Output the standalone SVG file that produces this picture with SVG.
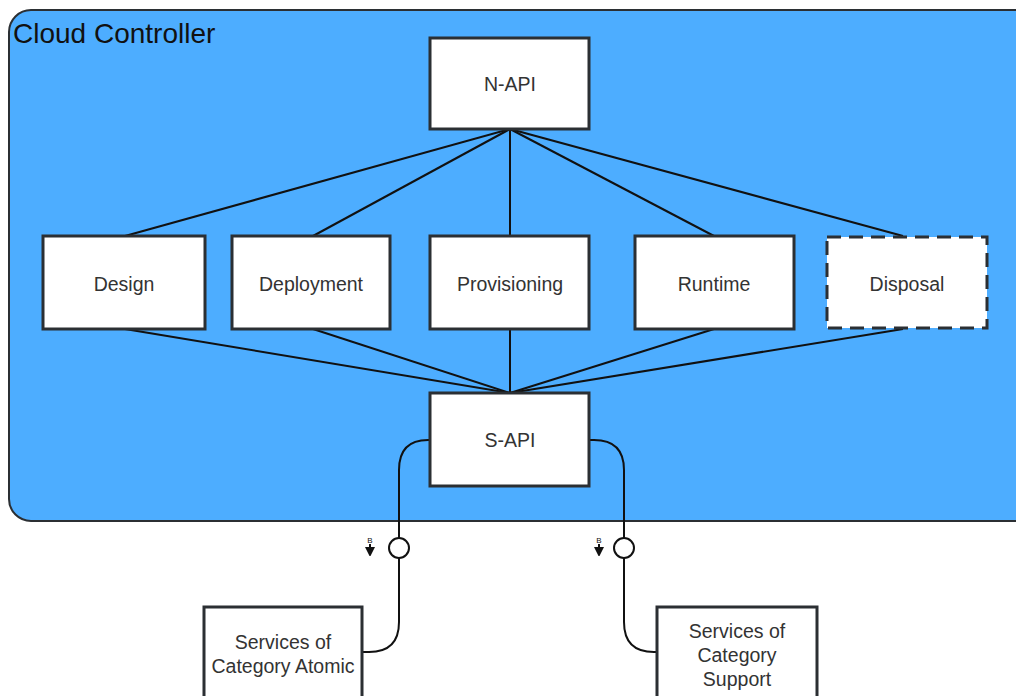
<svg xmlns="http://www.w3.org/2000/svg" width="1016" height="696" viewBox="0 0 1016 696">
<style>
.box{fill:#fff;stroke:#2b2f33;stroke-width:3}
.lbl{font-family:"Liberation Sans",Arial,sans-serif;font-size:19.5px;fill:#333;text-anchor:middle}
.ln{fill:none;stroke:#111;stroke-width:2}
</style>
<defs>
<marker id="ah" markerWidth="9" markerHeight="10" refX="5" refY="5" orient="auto" markerUnits="userSpaceOnUse">
<path d="M0,0 L10,5 L0,10 z" fill="#111"/>
</marker>
</defs>
<g id="cloud-controller">
<rect x="9" y="10" width="1030" height="511" rx="22" fill="#4dadff" stroke="#2b2f33" stroke-width="2"/>
<text x="13" y="43" font-family="Liberation Sans,Arial,sans-serif" font-size="28" fill="#111">Cloud Controller</text>
</g>
<g id="connectors">
<line class="ln" x1="510" y1="129" x2="125" y2="236"/>
<line class="ln" x1="510" y1="129" x2="313" y2="236"/>
<line class="ln" x1="510" y1="129" x2="510" y2="236"/>
<line class="ln" x1="510" y1="129" x2="714" y2="236"/>
<line class="ln" x1="510" y1="129" x2="903" y2="236"/>
<line class="ln" x1="125" y1="329" x2="510" y2="393"/>
<line class="ln" x1="313" y1="329" x2="510" y2="393"/>
<line class="ln" x1="510" y1="329" x2="510" y2="393"/>
<line class="ln" x1="714" y1="329" x2="510" y2="393"/>
<line class="ln" x1="903" y1="329" x2="510" y2="393"/>
<path class="ln" d="M430,440 L428,440 Q399,440 399,470 L399,538"/>
<path class="ln" d="M399,558 L399,622 Q399,652 369,652 L362,652"/>
<circle cx="399" cy="548" r="10" fill="#fff" stroke="#111" stroke-width="2"/>
<path class="ln" d="M589,440 L594,440 Q624,440 624,470 L624,538"/>
<path class="ln" d="M624,558 L624,622 Q624,652 654,652 L657,652"/>
<circle cx="624" cy="548" r="10" fill="#fff" stroke="#111" stroke-width="2"/>
<line x1="370" y1="544" x2="370" y2="552" stroke="#111" stroke-width="2" marker-end="url(#ah)"/>
<text x="370" y="543" font-family="Liberation Sans,Arial,sans-serif" font-size="8" fill="#111" text-anchor="middle">B</text>
<line x1="599" y1="544" x2="599" y2="552" stroke="#111" stroke-width="2" marker-end="url(#ah)"/>
<text x="599" y="543" font-family="Liberation Sans,Arial,sans-serif" font-size="8" fill="#111" text-anchor="middle">B</text>
</g>
<g id="n-api"><rect class="box" x="430" y="38" width="159" height="91"/><text class="lbl" x="510" y="91">N-API</text></g>
<g id="design"><rect class="box" x="43" y="236" width="162" height="93"/><text class="lbl" x="124" y="291">Design</text></g>
<g id="deployment"><rect class="box" x="232" y="236" width="158" height="93"/><text class="lbl" x="311" y="291">Deployment</text></g>
<g id="provisioning"><rect class="box" x="430" y="236" width="159" height="93"/><text class="lbl" x="510" y="291">Provisioning</text></g>
<g id="runtime"><rect class="box" x="635" y="236" width="159" height="93"/><text class="lbl" x="714" y="291">Runtime</text></g>
<g id="disposal"><rect class="box" x="827" y="237" width="160" height="91" stroke-dasharray="14,8"/><text class="lbl" x="907" y="291">Disposal</text></g>
<g id="s-api"><rect class="box" x="430" y="393" width="159" height="93"/><text class="lbl" x="510" y="447">S-API</text></g>
<g id="atomic"><rect class="box" x="204" y="607" width="158" height="100"/><text class="lbl" x="283" y="649">Services of</text><text class="lbl" x="283" y="673">Category Atomic</text></g>
<g id="support"><rect class="box" x="657" y="607" width="160" height="100"/><text class="lbl" x="737" y="638">Services of</text><text class="lbl" x="737" y="662">Category</text><text class="lbl" x="737" y="686">Support</text></g>
</svg>
